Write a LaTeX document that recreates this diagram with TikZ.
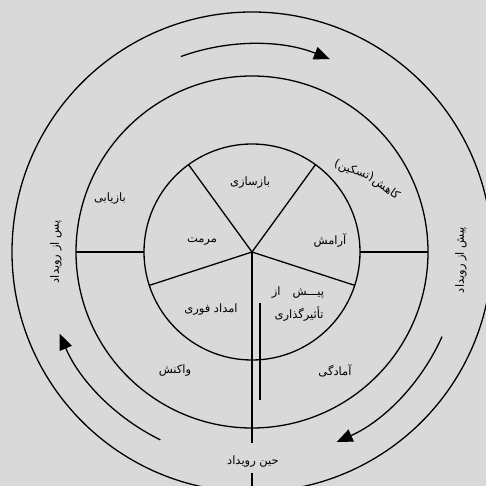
\documentclass[tikz,border=0pt]{standalone}
\usepackage{fontspec}
\TeXXeTstate=1
\newfontfamily\fa[Script=Arabic]{DejaVu Sans}
\usetikzlibrary{arrows.meta}
\definecolor{bg}{RGB}{217,217,217}
\tikzset{
  ring/.style={line width=1.3pt},
  flow/.style={line width=1.3pt,-{Triangle[length=16pt,width=13pt]}},
  lbl/.style={font=\fa\fontsize{11.5}{13}\selectfont,inner sep=1pt},
}
\begin{document}
\begin{tikzpicture}[x=1pt,y=1pt]
\useasboundingbox (-252,-234) rectangle (234,252);
\fill[bg] (-252,-234) rectangle (234,252);
\clip (-252,-234) rectangle (234,252);
\coordinate (c) at (0,0);
% circles
\draw[ring] (c) circle[radius=108];
\draw[ring] (c) circle[radius=176];
\draw[ring] (c) circle[radius=240];
% pie lines
\foreach \a in {54,126,198,342} \draw[ring] (c) -- (\a:108);
% radial separators
\draw[ring] (-108,0) -- (-176,0);
\draw[ring] (108,0) -- (176,0);
\coordinate (v1) at (0,-191);
\coordinate (v2) at (0,-221);
\coordinate (v3) at (0,-234);
\draw[ring] (c) -- (v1);
\draw[ring] (v2) -- (v3);
\coordinate (s1) at (8,-51);
\coordinate (s2) at (8,-148);
\draw[ring] (s1) -- (s2);
% arrows
\draw[flow] (110:208) arc[start angle=110,end angle=68,radius=208];
\draw[flow] (-24:208) arc[start angle=-24,end angle=-66,radius=208];
\draw[flow] (244:209) arc[start angle=244,end angle=203,radius=209];
% labels
\node[lbl] (t1) at (-2,69) {\beginR بازسازی\endR};
\node[lbl] (t2) at (-50,10) {\beginR مرمت\endR};
\node[lbl] (t3) at (78,11) {\beginR آرامش\endR};
\node[lbl] (t4) at (-41,-58) {\beginR امداد فوری\endR};
\node[lbl] (t5a) at (46,-41) {\beginR پیـــش\hspace{12pt}از\endR};
\node[lbl] (t5b) at (47,-62) {\beginR تأثیرگذاری\endR};
\node[lbl] (t6) at (83,-119) {\beginR آمادگی\endR};
\node[lbl] (t7) at (-77,-119) {\beginR واکنش\endR};
\node[lbl] (t8) at (-142,53) {\beginR بازیابی\endR};
\node[lbl,rotate=-20] (t9a) at (102,81) {\beginR (تسکین)\endR};
\node[lbl,rotate=-36,inner sep=0pt] (t9b) at (134,63) {\beginR کاهش\endR};
\node[lbl,rotate=90] (t10) at (209,-8) {\beginR پیش از رویداد\endR};
\node[lbl,rotate=90] (t11) at (-196,0) {\beginR پس از رویداد\endR};
\node[lbl] (t12) at (1,-210) {\beginR حین رویداد\endR};
\end{tikzpicture}
\end{document}
